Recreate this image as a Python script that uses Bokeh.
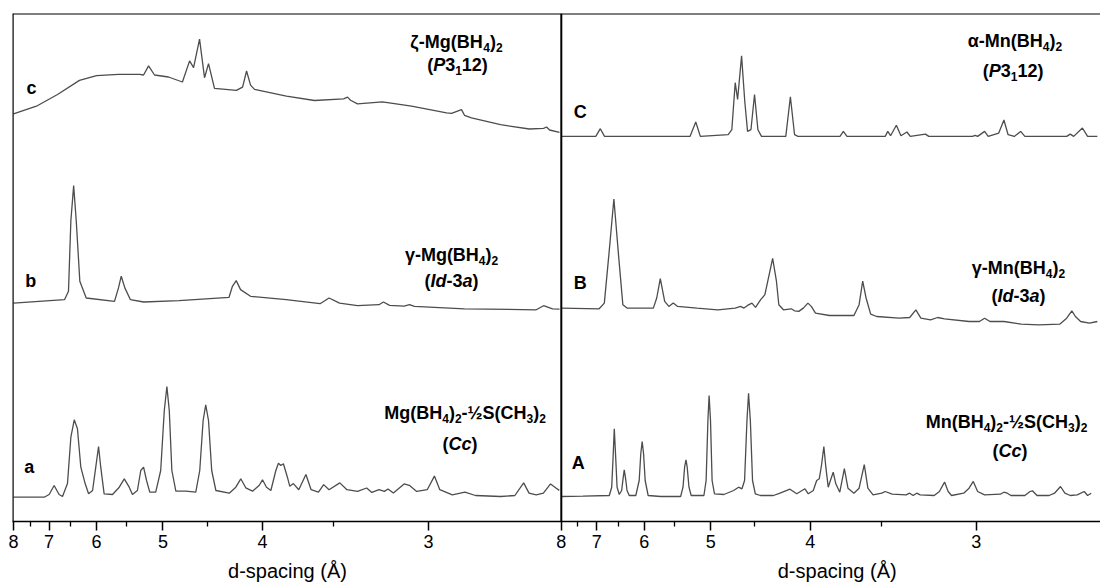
import json
from bokeh.plotting import figure
from bokeh.models import Range1d, FixedTicker, CustomJSTickFormatter, Span, LinearAxis
from bokeh.core.properties import value
from bokeh.embed import file_html
from bokeh.resources import INLINE

FONT = "Liberation Sans"
LINE = "#4d4d4d"
PANEL_SHIFT = 275.0   # the right panel is drawn after the left one (left panel spans 1000/d = 125..400)

# ---------------- data: x = 1000/d (reciprocal d-spacing), y = stacked intensity (a.u.) -------------
# left panel
zeta_mg_x = [125.0, 136.5, 147.1, 158.1, 166.7, 177.7, 188.3, 190.3, 192.8, 195.8, 202.8, 209.8, 213.4, 215.4,
             218.4, 220.9, 222.9, 225.9, 236.9, 240.0, 242.0, 244.0, 246.0, 262.0, 276.1, 290.7, 292.7, 294.2,
             297.7, 310.2, 324.8, 342.4, 344.9, 349.9, 351.4, 354.9, 369.5, 384.0, 391.1, 392.6, 394.1, 399.1]
zeta_mg_y = [407.6, 415.3, 427.0, 441.1, 445.8, 447.2, 447.2, 446.5, 455.6, 446.5, 444.5, 439.5, 460.6, 453.9,
             482.4, 443.8, 457.9, 433.1, 431.1, 434.4, 450.5, 436.4, 432.1, 425.4, 421.0, 422.7, 424.4, 421.3,
             417.6, 419.7, 415.3, 408.6, 408.2, 411.9, 406.2, 403.6, 396.8, 392.5, 393.1, 394.5, 391.5, 389.1]

gamma_mg_x = [125.0, 150.6, 152.6, 153.8, 155.2, 156.5, 158.3, 161.5, 175.7, 177.7, 179.1, 180.9, 183.7, 190.3,
              208.1, 233.2, 234.9, 236.8, 239.0, 244.0, 261.9, 278.9, 283.4, 288.7, 297.7, 308.5, 310.7, 313.8,
              321.1, 323.8, 326.3, 351.4, 387.4, 391.1, 395.6, 399.1]
gamma_mg_y = [218.4, 221.8, 230.2, 300.7, 335.9, 300.7, 240.3, 223.5, 220.1, 233.6, 245.3, 233.6, 221.8, 219.5,
              220.8, 224.2, 235.2, 240.9, 231.9, 225.2, 221.8, 217.8, 223.5, 218.4, 215.8, 216.8, 219.5, 216.1,
              215.4, 216.8, 215.1, 212.7, 211.7, 215.8, 212.7, 212.4]

mg_dms_x = [125.0, 140.4, 142.9, 145.4, 147.9, 149.6, 152.1, 153.8, 155.5, 157.1, 158.8, 161.0, 162.7, 164.7,
            166.3, 167.7, 168.8, 170.5, 174.7, 178.1, 180.6, 183.1, 184.7, 187.2, 188.9, 190.3, 191.8, 193.4,
            196.4, 198.9, 200.7, 202.0, 203.2, 204.5, 206.5, 211.5, 216.5, 218.5, 220.2, 221.5, 222.9, 224.5,
            226.6, 233.3, 236.6, 239.1, 241.6, 245.0, 248.3, 250.0, 252.0, 254.2, 256.7, 258.0, 259.2, 260.5,
            262.5, 263.7, 265.5, 268.2, 271.8, 274.4, 278.1, 280.7, 283.4, 288.8, 292.4, 297.7, 302.3, 304.9,
            308.5, 311.2, 313.0, 315.7, 321.1, 323.7, 327.4, 332.7, 336.3, 339.0, 345.3, 351.6, 356.9, 369.5,
            376.7, 381.1, 383.8, 387.4, 391.0, 394.6, 397.3, 399.0]
mg_dms_y = [24.3, 24.3, 27, 36, 27, 25, 38, 84.3, 101.7, 92.7, 54.3, 37.7, 27.7, 31,
            54.3, 75, 54.3, 27.7, 27, 34.3, 42.7, 34.3, 27, 31, 51, 54.3, 41, 29.3,
            29.3, 51, 111, 135, 111, 51, 30.3, 30.3, 29.3, 51, 101, 116.7, 101, 51,
            31, 28.3, 34.3, 42.7, 33.7, 30.3, 36, 41.7, 34.3, 31, 51, 58.3, 56, 57.7,
            44.3, 35.2, 37.9, 31.8, 47, 31.8, 29.4, 36.9, 31.8, 38.6, 31.8, 30.1, 33.5, 29.1,
            31.8, 30.1, 32.5, 28.4, 37.6, 36.2, 30.1, 31.8, 45.4, 31.8, 26.7, 29.4, 26, 25,
            26, 38.6, 28.4, 26.7, 28.4, 37.6, 33.5, 31.1]

# right panel
alpha_mn_x = [125.0, 142.3, 144.6, 146.7, 189.6, 192.5, 194.8, 208.8, 210.6, 212.3, 213.5, 215.5, 217.1, 218.5,
              220.2, 222.0, 223.7, 225.5, 237.7, 240.0, 242.1, 243.8, 264.9, 266.6, 268.4, 287.6, 288.9, 290.3,
              293.2, 295.5, 298.5, 300.2, 307.8, 309.5, 331.4, 332.8, 334.0, 337.5, 339.3, 344.6, 347.2, 349.3,
              352.4, 355.6, 357.7, 378.7, 380.5, 382.2, 386.6, 389.2, 394.1]
alpha_mn_y = [385.1, 385.1, 392.8, 385.1, 385.1, 399.5, 385.1, 386.8, 391.8, 438.8, 422.0, 465.6, 420.3, 390.1,
              391.8, 427.0, 391.8, 385.1, 385.1, 424.7, 386.8, 385.1, 385.1, 390.1, 385.1, 385.1, 390.1, 385.8,
              396.2, 385.8, 389.5, 385.1, 387.4, 385.1, 385.1, 386.1, 385.1, 390.1, 385.1, 388.4, 401.5, 386.8,
              385.1, 390.1, 385.1, 385.1, 387.4, 385.1, 393.5, 385.1, 385.1]

gamma_mn_x = [125.0, 144.0, 146.6, 148.9, 151.4, 153.7, 155.9, 158.0, 171.2, 172.9, 174.7, 176.9, 179.0, 181.2,
              183.4, 193.1, 203.6, 212.3, 215.0, 216.7, 218.5, 220.7, 222.5, 225.1, 227.2, 229.0, 231.1, 233.0,
              234.2, 236.5, 240.4, 242.1, 244.2, 246.5, 248.8, 250.5, 252.6, 259.6, 271.9, 274.5, 276.3, 278.0,
              280.3, 283.3, 294.6, 299.9, 303.0, 305.5, 310.4, 313.9, 317.4, 329.7, 334.9, 337.5, 340.2, 347.2,
              355.9, 364.7, 375.2, 378.7, 381.3, 383.1, 385.7, 390.1, 394.1]
gamma_mn_y = [213.4, 212.7, 218.4, 267.1, 322.5, 267.1, 216.8, 213.4, 213.4, 223.5, 242.9, 220.1, 215.1, 218.4,
              215.1, 213.4, 211.7, 213.4, 215.1, 213.4, 216.1, 218.4, 214.1, 221.8, 226.8, 243.6, 263.1, 240.3,
              216.8, 211.7, 212.7, 210.7, 210.1, 213.4, 218.4, 215.1, 208.4, 206.0, 206.0, 216.8, 240.3, 223.5,
              207.4, 205.0, 203.3, 204.0, 211.7, 203.3, 201.7, 204.0, 202.7, 200.0, 200.0, 203.3, 200.0, 200.0,
              197.3, 196.6, 197.3, 203.3, 210.7, 205.0, 200.0, 198.3, 200.0]

mn_dms_x = [125.0, 135.8, 149.1, 150.3, 151.0, 151.6, 152.3, 153.0, 154.1, 155.3, 156.0, 156.6, 157.3, 158.0,
            159.1, 162.4, 164.1, 164.9, 165.6, 166.3, 167.1, 168.6, 174.9, 184.9, 186.1, 186.9, 187.6, 188.2,
            189.1, 190.2, 196.6, 197.7, 198.6, 199.2, 199.9, 200.7, 201.9, 206.6, 211.5, 214.0, 215.7, 217.0,
            218.2, 219.0, 219.9, 221.0, 222.4, 224.9, 231.5, 234.8, 239.8, 243.2, 247.3, 249.0, 251.5, 253.2,
            254.5, 255.6, 256.8, 257.8, 259.0, 260.1, 261.5, 262.8, 264.8, 267.1, 268.9, 271.9, 274.5, 277.1,
            278.9, 281.5, 285.9, 287.6, 291.1, 298.1, 299.9, 301.6, 303.4, 305.2, 312.2, 314.8, 317.4, 319.2,
            320.9, 327.0, 329.7, 331.8, 334.0, 337.5, 345.4, 347.2, 348.9, 350.7, 357.7, 360.3, 361.5, 363.8,
            369.9, 372.6, 375.6, 377.8, 380.5, 384.0, 387.5, 389.2, 391.0]
mn_dms_y = [25, 25.3, 26, 34.3, 64.3, 92.7, 64.3, 34.3, 27, 31, 42.7, 51.7, 42.7, 31,
            26, 26, 41, 67.7, 80, 67.7, 41, 26, 25, 25, 34.3, 54.3, 61.7, 54.3,
            34.3, 26, 26, 41, 101, 126, 101, 41, 27.7, 27, 31, 34.3, 32.7, 41,
            101, 128.3, 101, 41, 27.7, 26, 26, 28.3, 32.3, 27.7, 32.7, 27.7, 31, 41,
            42.7, 56, 75, 54.3, 34.3, 41, 49.3, 37.7, 29.3, 52.8, 33.3, 28.3, 33.3, 56.8,
            33.3, 26.6, 28.3, 30, 27.3, 26.6, 28.3, 26, 28.3, 26.6, 26, 30, 39.4, 30,
            26, 28.3, 33.3, 40.1, 30, 26.6, 27.3, 29.3, 28.3, 26, 26, 30, 30.7, 26,
            26, 28.3, 35, 28.3, 26, 26.6, 30, 26, 28.3]

# axis ticks (d-spacing, Å)
d_major = [8, 7, 6, 5, 4, 3]
d_minor = [7.5, 6.5, 5.5, 4.5, 3.5]
x_title = "d-spacing (Å)"

# trace letters and phase labels: text parts, kind n = bold, i = bold italic, s = subscript
trace_letters = ["c", "b", "a", "C", "B", "A"]
zeta_mg_name = [("ζ-Mg(BH", "n"), ("4", "s"), (")", "n"), ("2", "s")]
gamma_mg_name = [("γ-Mg(BH", "n"), ("4", "s"), (")", "n"), ("2", "s")]
mg_dms_name = [("Mg(BH", "n"), ("4", "s"), (")", "n"), ("2", "s"), ("-½S(CH", "n"), ("3", "s"), (")", "n"), ("2", "s")]
alpha_mn_name = [("α-Mn(BH", "n"), ("4", "s"), (")", "n"), ("2", "s")]
gamma_mn_name = [("γ-Mn(BH", "n"), ("4", "s"), (")", "n"), ("2", "s")]
mn_dms_name = [("Mn(BH", "n"), ("4", "s"), (")", "n"), ("2", "s"), ("-½S(CH", "n"), ("3", "s"), (")", "n"), ("2", "s")]
sg_p3112 = [("(", "n"), ("P", "i"), ("3", "n"), ("1", "s"), ("12)", "n")]
sg_id3a = [("(", "n"), ("Id", "i"), ("-3", "n"), ("a", "i"), (")", "n")]
sg_cc = [("(", "n"), ("Cc", "i"), (")", "n")]

# ---------------- figure ----------------
p = figure(width=1100, height=588, x_range=Range1d(124.5, 670.68), y_range=Range1d(0, 508),
           output_backend="svg", toolbar_location=None, y_axis_location=None,
           min_border_left=12, min_border_right=0, min_border_top=13, min_border_bottom=67)
p.outline_line_color = None
p.xgrid.visible = False
p.ygrid.visible = False
p.background_fill_color = "white"

ax = p.xaxis[0]
ax.ticker = FixedTicker(ticks=[1000 / d for d in d_major] + [1000 / d + PANEL_SHIFT for d in d_major],
                        minor_ticks=[1000 / d for d in d_minor] + [1000 / d + PANEL_SHIFT for d in d_minor])
ax.formatter = CustomJSTickFormatter(
    code="const q = tick > 399.9 ? tick - %s : tick; return (1000 / q).toFixed(0);" % PANEL_SHIFT)
ax.axis_line_color = "black"
ax.axis_line_width = 1.5
ax.major_tick_line_color = "black"
ax.major_tick_line_width = 1.5
ax.minor_tick_line_color = "black"
ax.minor_tick_line_width = 1.3
ax.major_tick_out = 9
ax.major_tick_in = 0
ax.minor_tick_out = 5
ax.minor_tick_in = 0
ax.major_label_standoff = 4
ax.major_label_text_font = FONT
ax.major_label_text_font_size = "18px"
ax.major_label_text_color = "black"

# second bottom axis carrying one "d-spacing (Å)" title under the middle of each panel
title_axis = LinearAxis(ticker=FixedTicker(ticks=[262.55, 538.5], minor_ticks=[]),
                        formatter=CustomJSTickFormatter(code="return %s;" % json.dumps(x_title)),
                        axis_line_color=None, major_tick_line_color=None, minor_tick_line_color=None,
                        major_tick_out=0, major_tick_in=0, major_label_standoff=9,
                        major_label_text_font=FONT, major_label_text_font_size="20px",
                        major_label_text_color="black")
p.add_layout(title_axis, "below")

# frame lines (left edge, separator between panels, top edge)
for loc, dim in [(124.6, "height"), (400.0, "height"), (508, "width")]:
    p.add_layout(Span(location=loc, dimension=dim, line_color="black", line_width=2))

# traces
for xs, ys, shift in [(zeta_mg_x, zeta_mg_y, 0.0), (gamma_mg_x, gamma_mg_y, 0.0), (mg_dms_x, mg_dms_y, 0.0),
                      (alpha_mn_x, alpha_mn_y, PANEL_SHIFT), (gamma_mn_x, gamma_mn_y, PANEL_SHIFT),
                      (mn_dms_x, mn_dms_y, PANEL_SHIFT)]:
    p.line([x + shift for x in xs], ys, line_color=LINE, line_width=1.3)

ADV = {" ": 278, "(": 333, ")": 333, "-": 333, "B": 722, "C": 722, "H": 722, "I": 278, "M": 833,
       "P": 667, "S": 667, "a": 556, "c": 556, "d": 611, "g": 611, "n": 611, "½": 834,
       "ζ": 500, "γ": 556, "α": 618}


def adv(s, size):
    return sum(ADV.get(ch, 556) for ch in s) * size / 1000.0


def rich(x, y, parts, size=18, sub=12, drop=5.5):
    total = sum(adv(t, sub if k == "s" else size) for t, k in parts)
    off = -total / 2
    for t, k in parts:
        fs = sub if k == "s" else size
        p.text(x=[x], y=[y - (drop if k == "s" else 0)], text=[t], x_offset=off,
               text_align="left", text_baseline="alphabetic", text_font=value(FONT),
               text_font_size=f"{fs}px", text_font_style="bold italic" if k == "i" else "bold",
               text_color="black")
        off += adv(t, fs)


# trace letters (x in 1000/d of its panel, y in a.u.)
letter_pos = [(134.0, 434.0, 0.0), (133.7, 240.5, 0.0), (132.9, 54.6, 0.0),
              (134.5, 409.5, PANEL_SHIFT), (134.5, 238.5, PANEL_SHIFT), (133.5, 59.0, PANEL_SHIFT)]
for letter, (lx, ly, sh) in zip(trace_letters, letter_pos):
    p.text(x=[lx + sh], y=[ly], text=[letter], text_align="center", text_baseline="alphabetic",
           text_font=value(FONT), text_font_size="18px", text_font_style="bold", text_color="black")

labels = [
    (zeta_mg_name, 347.4, 480.0, 0.0), (sg_p3112, 347.9, 457.0, 0.0),
    (gamma_mg_name, 344.9, 267.0, 0.0), (sg_id3a, 344.9, 241.0, 0.0),
    (mg_dms_name, 351.7, 109.0, 0.0), (sg_cc, 349.2, 78.0, 0.0),
    (alpha_mn_name, 352.7, 481.0, PANEL_SHIFT), (sg_p3112, 351.8, 451.0, PANEL_SHIFT),
    (gamma_mn_name, 354.5, 254.0, PANEL_SHIFT), (sg_id3a, 354.5, 226.0, PANEL_SHIFT),
    (mn_dms_name, 348.5, 100.0, PANEL_SHIFT), (sg_cc, 350.2, 71.0, PANEL_SHIFT),
]
for parts, lx, ly, sh in labels:
    rich(lx + sh, ly, parts)

open("out.html", "w").write(file_html(p, INLINE))
